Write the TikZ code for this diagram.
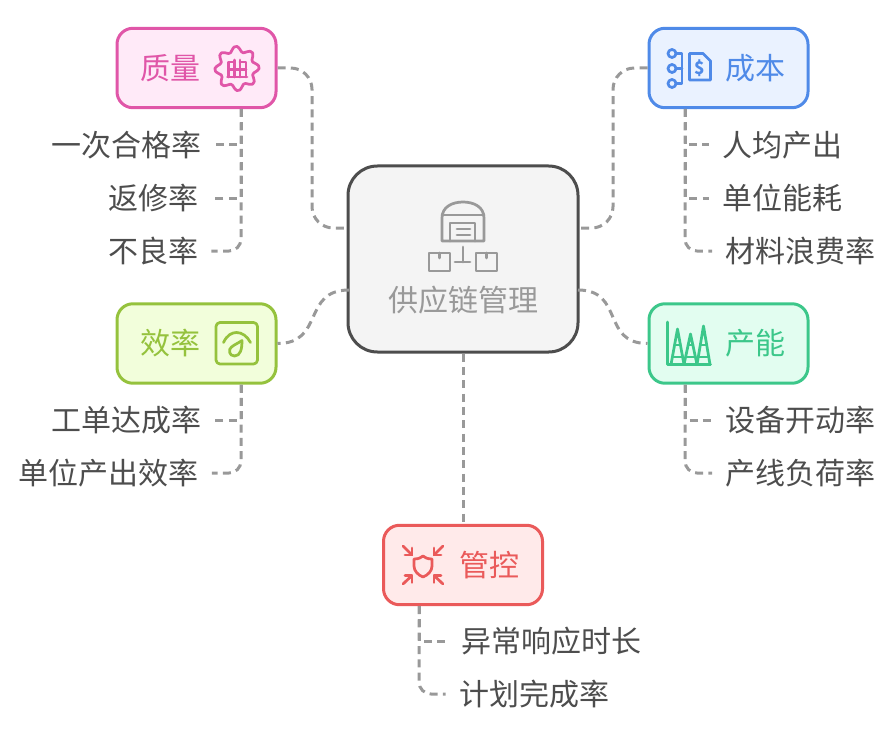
\documentclass[tikz,border=0pt]{standalone}
\usepackage{fontspec}
\usepackage{xcolor}
\setmainfont{Noto Sans CJK SC}
\definecolor{hubline}{HTML}{4D4D4D}
\definecolor{hubfill}{HTML}{F4F4F4}
\definecolor{hubtext}{HTML}{999999}
\definecolor{leaftext}{HTML}{4D4D4D}
\definecolor{zlline}{HTML}{E056A8}
\definecolor{zlfill}{HTML}{FFEAF8}
\definecolor{cbline}{HTML}{4F8AE8}
\definecolor{cbfill}{HTML}{EAF2FF}
\definecolor{xlline}{HTML}{95C23D}
\definecolor{xlfill}{HTML}{F2FEDB}
\definecolor{cnline}{HTML}{3CC78A}
\definecolor{cnfill}{HTML}{E2FDF0}
\definecolor{gkline}{HTML}{EA5A5A}
\definecolor{gkfill}{HTML}{FFEAEA}
\tikzset{
	hubbox/.style={draw=hubline,fill=hubfill,line width=2.25pt,rounded corners=22pt,minimum width=172.5pt,minimum height=139.5pt},
	groupbox/.style={line width=2.25pt,rounded corners=12pt,minimum width=119.25pt,minimum height=59.6pt},
	grouptext/.style={font=\fontsize{22.5pt}{26pt}\selectfont,inner sep=0pt},
	leaf/.style={font=\fontsize{22.5pt}{26pt}\selectfont,text=leaftext,inner sep=0pt,outer sep=10pt},
	link/.style={draw=hubtext,line width=2.25pt,dash pattern=on 6pt off 4pt},
	icon/.style={line width=2.05pt,line cap=round,line join=round}
}
\begin{document}
\begin{tikzpicture}[x=0.75pt,y=-0.75pt]
	\useasboundingbox (0,0) rectangle (892,738);
	% boxes
	\node[hubbox] (hub) at (463,259) {};
	\node[groupbox,draw=zlline,fill=zlfill] (zhiliang) at (196.5,68) {};
	\node[groupbox,draw=cbline,fill=cbfill] (chengben) at (728.5,68) {};
	\node[groupbox,draw=xlline,fill=xlfill] (xiaolv) at (196.5,343.5) {};
	\node[groupbox,draw=cnline,fill=cnfill] (channeng) at (728.5,343.5) {};
	\node[groupbox,draw=gkline,fill=gkfill] (guankong) at (463,565) {};
	\node[grouptext,text=hubtext] (hubtitle) at (463,300) {供应链管理};
	\node[grouptext,text=zlline] (zltitle) at (170,68) {质量};
	\node[grouptext,text=cbline] (cbtitle) at (755,68) {成本};
	\node[grouptext,text=xlline] (xltitle) at (170,343.5) {效率};
	\node[grouptext,text=cnline] (cntitle) at (755,343.5) {产能};
	\node[grouptext,text=gkline] (gktitle) at (489,565) {管控};
	% leaves
	\node[leaf] (yici) at (126,145) {一次合格率};
	\node[leaf] (fanxiu) at (153,198) {返修率};
	\node[leaf] (buliang) at (153,251) {不良率};
	\node[leaf] (renjun) at (782,145) {人均产出};
	\node[leaf] (nenghao) at (782,198) {单位能耗};
	\node[leaf] (cailiao) at (800.5,251) {材料浪费率};
	\node[leaf] (gongdan) at (126,420) {工单达成率};
	\node[leaf] (danwei) at (108.5,473) {单位产出效率};
	\node[leaf] (shebei) at (800.5,420) {设备开动率};
	\node[leaf] (chanxian) at (800.5,473) {产线负荷率};
	\node[leaf] (yichang) at (551.5,641) {异常响应时长};
	\node[leaf] (jihua) at (534,694) {计划完成率};
	% connectors
	\coordinate (hubzl) at (349,228);
	\coordinate (hubcb) at (580,228);
	\coordinate (hubxl) at (349,290);
	\coordinate (hubcn) at (578,290);
	\coordinate (zltrunk) at (241,109);
	\coordinate (cbtrunk) at (685,109);
	\coordinate (xltrunk) at (241,384.5);
	\coordinate (cntrunk) at (685,384.5);
	\coordinate (gktrunk) at (419,606);
	\draw[link,rounded corners=16pt] (zhiliang.east) -| (312,150) |- (hubzl);
	\draw[link,rounded corners=16pt] (chengben.west) -| (613,150) |- (hubcb);
	\draw[link] (hubxl) to[out=180,in=0,looseness=1.35] (xiaolv.east);
	\draw[link] (hubcn) to[out=0,in=180,looseness=1.35] (channeng.west);
	\draw[link] (hub.south) -- (guankong.north);
	\draw[link] (zltrunk) |- (yici.east);
	\draw[link] (zltrunk) |- (fanxiu.east);
	\draw[link,rounded corners=9pt] (zltrunk) |- (buliang.east);
	\draw[link] (cbtrunk) |- (renjun.west);
	\draw[link] (cbtrunk) |- (nenghao.west);
	\draw[link,rounded corners=9pt] (cbtrunk) |- (cailiao.west);
	\draw[link] (xltrunk) |- (gongdan.east);
	\draw[link,rounded corners=9pt] (xltrunk) |- (danwei.east);
	\draw[link] (cntrunk) |- (shebei.west);
	\draw[link,rounded corners=9pt] (cntrunk) |- (chanxian.west);
	\draw[link] (gktrunk) |- (yichang.west);
	\draw[link,rounded corners=9pt] (gktrunk) |- (jihua.west);
	% hub icon
	\draw[icon,draw=hubtext] (442,241) -- (442,218) .. controls (442,207) and (452,202) .. (463,202) .. controls (474,202) and (484,207) .. (484,218) -- (484,241) -- cycle;
	\draw[icon,draw=hubtext] (442,215) -- (484,215);
	\draw[icon,draw=hubtext] (450,241) -- (450,223) -- (475,223) -- (475,241);
	\draw[icon,draw=hubtext] (457,229) -- (470,229);
	\draw[icon,draw=hubtext] (457,235) -- (470,235);
	\draw[icon,draw=hubtext] (463,247) -- (463,262);
	\draw[icon,draw=hubtext] (455,262) -- (470,262);
	\draw[icon,draw=hubtext] (429,253) rectangle (450,271);
	\draw[icon,draw=hubtext] (439.5,253) -- (439.5,258);
	\draw[icon,draw=hubtext] (476,253) rectangle (497,271);
	\draw[icon,draw=hubtext] (486.5,253) -- (486.5,258);
	% quality icon
	\draw[icon,draw=zlline,shift={(237,68.5)}] plot[smooth cycle,samples=48,domain=0:352.5] (\x:{19.5+2.8*cos(8*\x+22.5)});
	\draw[icon,draw=zlline] (227.5,77) -- (247,77);
	\draw[icon,draw=zlline] (228.5,77) -- (228.5,62) -- (234,62);
	\draw[icon,draw=zlline] (246,77) -- (246,62) -- (240,62);
	\draw[icon,draw=zlline] (234.5,60) -- (234.5,77);
	\draw[icon,draw=zlline] (240,60) -- (240,77);
	\draw[icon,draw=zlline] (228.5,69.5) -- (246,69.5);
	% cost icon
	\draw[icon,draw=cbline] (672,53.5) circle (4);
	\draw[icon,draw=cbline] (672,68.5) circle (4);
	\draw[icon,draw=cbline] (672,83.5) circle (4);
	\draw[icon,draw=cbline] (676,53.5) -- (682,53.5) -- (682,83.5) -- (676,83.5);
	\draw[icon,draw=cbline] (676,68.5) -- (682,68.5);
	\draw[icon,draw=cbline] (689.5,53.5) -- (703,53.5) -- (710.5,61) -- (710.5,80) -- (689.5,80) -- cycle;
	\node[inner sep=0pt,text=cbline,font=\fontsize{13pt}{14pt}\selectfont\bfseries] (dollar) at (699.5,68) {\$};
	% efficiency icon
	\draw[icon,draw=xlline,rounded corners=3pt] (216,322.5) rectangle (257.5,364);
	\draw[icon,draw=xlline] (223.5,342.5) .. controls (227,335) and (232,332.5) .. (236.5,332.5) .. controls (242,332.5) and (247,336) .. (250.5,342.5);
	\draw[icon,draw=xlline] (242,340.5) .. controls (242,349) and (240.5,356) .. (234.5,356) .. controls (229,356) and (228,349.5) .. (231.5,347) .. controls (234.5,344.5) and (238.5,343) .. (242,340.5) -- cycle;
	% capacity icon
	\draw[icon,draw=cnline] (667.5,322) -- (667.5,364.5) -- (710.5,364.5);
	\draw[icon,draw=cnline] (671,364.5) -- (677.5,329) -- (684,364.5);
	\draw[icon,draw=cnline] (684,364.5) -- (690.5,334) -- (697,364.5);
	\draw[icon,draw=cnline] (697,364.5) -- (703.5,326) -- (710,364.5);
	\draw[icon,draw=cnline] (675,345) -- (680,345);
	\draw[icon,draw=cnline] (688,345) -- (693,345);
	\draw[icon,draw=cnline] (701,345) -- (706,345);
	\draw[icon,draw=cnline] (673,357) -- (682,357);
	\draw[icon,draw=cnline] (686,357) -- (695,357);
	\draw[icon,draw=cnline] (699,357) -- (708,357);
	% control icon
	\draw[icon,draw=gkline] (414,559) .. controls (419,559) and (421,557.5) .. (423,556) .. controls (425,557.5) and (427,559) .. (432,559) -- (432,566) .. controls (432,571) and (428,575) .. (423,577) .. controls (418,575) and (414,571) .. (414,566) -- cycle;
	\draw[icon,draw=gkline] (403,546) -- (412,555);
	\draw[icon,draw=gkline] (405,555) -- (412,555) -- (412,548);
	\draw[icon,draw=gkline] (443,546) -- (434,555);
	\draw[icon,draw=gkline] (441,555) -- (434,555) -- (434,548);
	\draw[icon,draw=gkline] (403,584) -- (412,575.5);
	\draw[icon,draw=gkline] (405,575.5) -- (412,575.5) -- (412,582.5);
	\draw[icon,draw=gkline] (443,584) -- (434,575.5);
	\draw[icon,draw=gkline] (441,575.5) -- (434,575.5) -- (434,582.5);
\end{tikzpicture}
\end{document}
